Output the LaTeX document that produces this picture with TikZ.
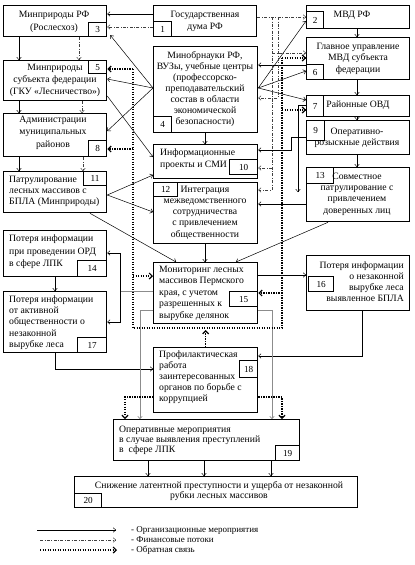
\documentclass[tikz,border=0pt]{standalone}
\usepackage{fontspec}
\setmainfont{Liberation Serif}
\usetikzlibrary{arrows.meta,calc}
\newcommand\mkbox[7]{\node[#6,minimum width={#4pt-#2pt},minimum height={#5pt-#3pt}] (#1) at (#2,#3) {#7};}
\newcommand\fs[1]{\fontsize{9.7}{#1}\selectfont}
\begin{document}
\begin{tikzpicture}[x=1pt,y=-1pt,
  box/.style={draw,line width=1.3pt,inner sep=0pt,anchor=north west},
  numbox/.style={draw,line width=1.2pt,inner sep=0pt,anchor=north west,font=\fontsize{9.2}{10}\selectfont},
  txt/.style={inner sep=0pt,font=\fs{11.3}},
  org/.style={line width=0.5pt,-{To[length=3pt,width=5pt]}},
  fin/.style={line width=0.5pt,black!75,dash pattern=on 3pt off 1.5pt on 0.8pt off 1.5pt,-{To[length=3pt,width=5pt]}},
  fbl/.style={line width=1.5pt,dash pattern=on 1.2pt off 1.3pt},
  fb/.style={fbl,-{Straight Barb[length=3pt,width=6pt,line width=1.2pt]}},
  gr/.style={line width=0.6pt,black!45},
]
\useasboundingbox[fill=white] (0,0) rectangle (415,565);
% boxes
\mkbox{b3}{3}{5}{106}{36}{box}{}
\mkbox{n3}{88}{22}{106}{36}{numbox}{3}
\mkbox{b1}{153}{5}{256}{36}{box}{}
\mkbox{n1}{153}{21}{171}{36}{numbox}{1}
\mkbox{b2}{306}{5}{409}{28}{box}{}
\mkbox{n2}{306}{11}{323}{28}{numbox}{2}
\mkbox{b6}{306}{37}{409}{79}{box}{}
\mkbox{n6}{306}{64}{323}{79}{numbox}{6}
\mkbox{b7}{306}{95}{409}{116}{box}{}
\mkbox{n7}{306}{95}{323}{116}{numbox}{7}
\mkbox{b9}{306}{120}{409}{154}{box}{}
\mkbox{n9}{306}{120}{324}{140}{numbox}{9}
\mkbox{b13}{306}{167}{409}{221}{box}{}
\mkbox{n13}{306}{167}{333}{183}{numbox}{13}
\mkbox{b16}{306}{255}{409}{310}{box}{}
\mkbox{n16}{308}{276}{333}{291}{numbox}{16}
\mkbox{b4}{153}{46}{257}{132}{box}{}
\mkbox{n4}{153}{116}{171}{132}{numbox}{4}
\mkbox{b10}{153}{144}{257}{178}{box}{}
\mkbox{n10}{229}{159}{257}{174}{numbox}{10}
\mkbox{b12}{153}{182}{257}{243}{box}{}
\mkbox{n12}{153}{182}{177}{196}{numbox}{12}
\mkbox{b15}{153}{262}{257}{323}{box}{}
\mkbox{n15}{229}{291}{257}{306}{numbox}{15}
\mkbox{b18}{153}{347}{257}{412}{box}{}
\mkbox{n18}{239}{360}{257}{377}{numbox}{18}
\mkbox{b19}{113}{419}{299}{460}{box}{}
\mkbox{n19}{275}{445}{299}{460}{numbox}{19}
\mkbox{b20}{74}{476}{357}{507}{box}{}
\mkbox{n20}{74}{493}{101}{507}{numbox}{20}
\mkbox{b5}{3}{60}{106}{100}{box}{}
\mkbox{n5}{88}{60}{106}{73}{numbox}{5}
\mkbox{b8}{3}{113}{106}{156}{box}{}
\mkbox{n8}{88}{140}{106}{156}{numbox}{8}
\mkbox{b11}{3}{171}{106}{212}{box}{}
\mkbox{n11}{83}{171}{106}{185}{numbox}{11}
\mkbox{b14}{3}{230}{106}{276}{box}{}
\mkbox{n14}{77}{260}{106}{276}{numbox}{14}
\mkbox{b17}{3}{291}{106}{352}{box}{}
\mkbox{n17}{77}{337}{106}{352}{numbox}{17}
% texts
\node[txt,align=center,font=\fs{13}] (t3) at (54,21.5) {Минприроды РФ\\(Рослесхоз)};
\node[txt,align=center,font=\fs{12}] (t1) at (205,21) {Государственная\\дума РФ};
\node[txt] (t2) at (352,15) {МВД РФ};
\node[txt,align=center,font=\fs{11.5}] (t6) at (358,58.5) {Главное управление\\МВД субъекта\\федерации};
\node[txt] (t7) at (358,105.5) {Районные ОВД};
\node[txt,align=center,font=\fs{10.5}] (t9) at (357,138) {Оперативно-\\розыскные действия};
\node[txt,align=center] (t13) at (357,194) {Совместное\\патрулирование с\\привлечением\\доверенных лиц};
\node[txt,align=right,anchor=east,font=\fs{11}] (t16) at (404,281.5) {Потеря информации\\о незаконной\\вырубке леса\\выявленное БПЛА};
\node[txt,align=center,font=\fs{11}] (t4) at (205,89) {Минобрнауки РФ,\\ВУЗы, учебные центры\\(профессорско-\\преподавательский\\состав в области\\экономической\\безопасности)};
\node[txt,align=left,anchor=west,font=\fs{12}] (t10) at (160,159) {Информационные\\проекты и СМИ};
\node[txt,align=center,font=\fs{11.2}] (t12) at (205,212.5) {Интеграция\\межведомственного\\сотрудничества\\с привлечением\\общественности};
\node[txt,align=left,anchor=west,font=\fs{11.5}] (t15) at (159,293) {Мониторинг лесных\\массивов Пермского\\края, с учетом\\разрешенных к\\вырубке делянок};
\node[txt,align=left,anchor=west,font=\fs{11}] (t18) at (159,377) {Профилактическая\\работа\\заинтересованных\\органов по борьбе с\\коррупцией};
\node[txt,align=left,anchor=west,font=\fs{10}] (t19) at (119,440) {Оперативные мероприятия\\в случае выявления преступлений\\в~ сфере ЛПК};
\node[txt,align=center,font=\fs{10}] (t20) at (219,491.5) {Снижение латентной преступности и ущерба от незаконной\\рубки лесных массивов};
\node[txt,align=center,font=\fs{12}] (t5) at (55,80) {Минприроды\\субъекта федерации\\(ГКУ «Лесничество»)};
\node[txt,align=center,font=\fs{12.5}] (t8) at (53,132.5) {Администрации\\муниципальных\\районов};
\node[txt,align=left,anchor=west,font=\fs{11}] (t11) at (9,191) {Патрулирование\\лесных массивов с\\БПЛА (Минприроды)};
\node[txt,align=left,anchor=west,font=\fs{12.5}] (t14) at (9,252) {Потеря информации\\при проведении ОРД\\в сфере ЛПК};
\node[txt,align=left,anchor=west,font=\fs{11.3}] (t17) at (9,322.5) {Потеря информации\\от активной\\общественности о\\незаконной\\вырубке леса};
% organisational connectors
\draw[org] (b1.west |- 0,14) -- (b3.east |- 0,14);
\draw[org] (b3.south -| 19,0) -- (b5.north -| 19,0);
\draw[org] (b5.south -| 19,0) -- (b8.north -| 19,0);
\draw[org] (b8.south -| 19,0) -- (b11.north -| 19,0);
\draw[org] (b14.south -| 55,0) -- (b17.north -| 55,0);
\coordinate (o4) at (b4.west |- 0,88);
\draw[org] (o4) -- ($(b3.south east)+(3,-2)$);
\draw[org] (o4) -- (b5.east |- 0,79);
\draw[org] (o4) -- (b8.east |- 0,131);
\draw[org] (b5.east |- 0,96) -- (b10.west |- 0,157);
\coordinate (o11) at (b11.east |- 0,195);
\draw[org] (o11) -- (b10.west |- 0,175);
\draw[org] (o11) -- (b12.west |- 0,212);
\draw[org] (b11.south -| 90,0) -- (b15.north -| 176,0);
\draw[org] (b12.south -| 205,0) -- (b15.north -| 205,0);
\draw[org] (b13.south -| 328,0) -- (b15.north -| 236,0);
\draw[org] (b4.south -| 205,0) -- (b10.north -| 205,0);
\coordinate (o4r) at (b4.east |- 0,88);
\draw[org] (o4r) -- (b2.west |- 0,21);
\draw[org] (o4r) -- (b6.west |- 0,71);
\draw[org] (o4r) -- (b7.west |- 0,100);
\draw[org] (b2.south -| 357,0) -- (b6.north -| 357,0);
\draw[org] (b6.south -| 357,0) -- (b7.north -| 357,0);
\draw[org] (b7.south -| 357,0) -- (b9.north -| 357,0);
\draw[org] (b9.south -| 357,0) -- (b13.north -| 357,0);
\draw[org] (b6.west |- 0,65) -- (b4.east |- 0,65);
\coordinate (k9) at (291,137);
\draw[org] (b9.west |- k9) -- (k9) |- (b10.east |- 0,150);
\coordinate (e7) at (298,192);
\draw[org] (b7.west |- 0,105) -| (e7);
\draw[org] (b13.west |- 0,204) -- (b12.east |- 0,204);
\draw[org] (b15.east |- 0,275) -- (b16.west |- 0,275);
\draw[org] (b16.south -| 362,0) |- (b18.east |- 0,356);
\draw[org] (b17.south -| 55,0) |- (b18.west |- 0,369);
\coordinate (j1) at (120,291);
\draw[gr] (b15.west |- j1) -- (j1);
\draw[org] (j1) |- (b14.east |- 0,253);
\draw[org] (j1) |- (b17.east |- 0,322);
\draw[org,gr] (b15.west |- 0,310) -| (b19.north -| 140,0);
\draw[org,gr] (b15.east |- 0,310) -| (b19.north -| 272,0);
\foreach \xx in {148,204,271} \draw[org] (b19.south -| \xx,0) -- (b20.north -| \xx,0);
% financial connectors
\draw[fin] (b1.west |- 0,27) -- (b3.east |- 0,27);
\draw[fin] (b1.east |- 0,17) -- (b2.west |- 0,17);
\draw[fin] (b3.south -| 79,0) -- (b5.north -| 79,0);
\draw[fin] (b5.south -| 82,0) -- (b8.north -| 82,0);
\draw[fin] (b8.south -| 83,0) -- (b11.north -| 83,0);
\coordinate (f1) at (272,17);
\coordinate (f2) at (278,17);
\draw[fin] (f1) |- (b12.east |- 0,190);
\draw[fin] (f1 |- 0,53) -- (b6.west |- 0,53);
\draw[fin] (f1 |- 0,168) -- (b10.east |- 0,168);
\draw[fin] (f2) |- (b4.east |- 0,98);
% feedback connectors
\coordinate (fa) at (133,69);
\coordinate (fbb) at (133,328);
\coordinate (fc) at (282,328);
\coordinate (fd) at (282,58);
\draw[fbl] (fa) -- (fbb) -- (fc) -- (fd);
\draw[fb] (fa) -- (b5.east |- fa);
\draw[fb] (fd) -- (b6.west |- fd);
\draw[fb] (fa |- 0,149) -- (b8.east |- 0,149);
\draw[fb] (fa |- 0,276) -- (b15.west |- 0,276);
\draw[fb] (fd |- 0,110) -- (b7.west |- 0,110);
\draw[fb] (fd |- 0,293) -- (b15.east |- 0,293);
\draw[fb] (b18.north) -- (b18.north |- 0,330);
\draw[fb] (b18.west |- 0,397) -| (b19.north -| 125,0);
\draw[fb] (b18.east |- 0,397) -| (b19.north -| 282,0);
% legend
\coordinate (l1a) at (37,530); \coordinate (l1b) at (116,530);
\coordinate (l2a) at (40,540); \coordinate (l2b) at (116,540);
\coordinate (l3a) at (40,550); \coordinate (l3b) at (117,550);
\draw[org] (l1a) -- (l1b);
\draw[fin] (l2a) -- (l2b);
\draw[fb] (l3a) -- (l3b);
\node[txt,anchor=west,font=\fontsize{9}{10}\selectfont] (lg1) at (131,530) {- Организационные мероприятия};
\node[txt,anchor=west,font=\fontsize{9}{10}\selectfont] (lg2) at (131,540) {- Финансовые потоки};
\node[txt,anchor=west,font=\fontsize{9}{10}\selectfont] (lg3) at (131,550) {- Обратная связь};
\end{tikzpicture}
\end{document}
